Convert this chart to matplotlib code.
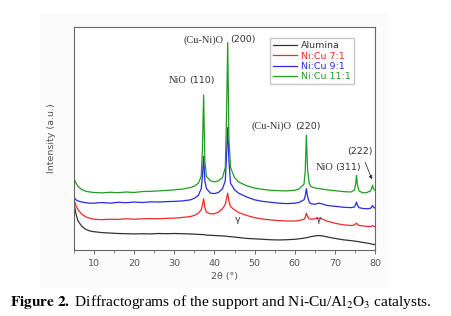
import matplotlib.pyplot as plt
from matplotlib.patches import Rectangle

plt.rcParams['mathtext.fontset'] = 'stix'

# 2-theta positions shared by all patterns
two_theta = [5, 5.5, 6, 7, 8, 9, 10, 12, 14, 16, 18, 20, 22, 24, 26, 28, 30, 32, 34, 35, 36,
             36.7, 37.0, 37.3, 37.6, 38, 39, 40, 41, 42, 42.7, 43.0, 43.3, 43.6, 44, 45, 46,
             48, 50, 52, 54, 56, 58, 60, 61, 62.3, 62.6, 62.9, 63.2, 63.6, 64, 65, 66, 67, 68,
             70, 72, 74, 74.9, 75.2, 75.4, 75.6, 76, 77, 78, 78.9, 79.2, 79.4, 79.6, 80]

alumina = [21.0, 16.0, 13.0, 10.5, 9.2, 8.5, 8.2, 7.8, 7.6, 7.4, 7.3, 7.2, 7.3, 7.2, 7.4, 7.3,
           7.4, 7.3, 7.2, 7.1, 7.0, 6.9, 7.0, 6.9, 6.8, 6.7, 6.6, 6.5, 6.4, 6.3, 6.2, 6.2, 6.1,
           6.0, 6.0, 5.8, 5.6, 5.2, 5.0, 4.8, 4.6, 4.5, 4.6, 4.8, 5.0, 5.3, 5.4, 5.5, 5.6, 5.8,
           6.0, 6.3, 6.5, 6.3, 5.9, 5.2, 4.6, 4.2, 4.0, 3.9, 3.9, 3.8, 3.7, 3.4, 3.1, 2.8, 2.7,
           2.6, 2.5, 2.4]

nicu_7 = [22.5, 20.0, 18.0, 16.0, 14.8, 14.2, 13.8, 13.6, 13.8, 13.7, 14.0, 13.8, 14.0, 14.1,
          14.0, 14.2, 14.3, 14.6, 15.0, 15.5, 16.5, 18.0, 20.0, 23.0, 19.0, 17.0, 16.2, 16.3,
          17.0, 18.5, 20.5, 23.0, 25.5, 22.0, 19.5, 18.0, 16.8, 15.5, 14.5, 13.9, 13.5, 13.2,
          13.0, 13.0, 13.2, 13.8, 14.5, 16.5, 15.0, 14.0, 13.8, 14.0, 14.3, 13.8, 13.0, 12.0,
          11.3, 11.0, 11.2, 11.8, 12.0, 11.6, 11.0, 10.8, 10.6, 10.5, 10.8, 11.0, 10.7, 10.4]

nicu_9 = [23.5, 22.5, 22.0, 21.5, 21.2, 21.0, 21.0, 21.3, 21.0, 21.4, 21.2, 21.5, 21.3, 21.6,
          21.5, 21.7, 21.8, 22.0, 22.5, 23.2, 24.5, 27.5, 33.0, 42.0, 31.0, 27.5, 25.5, 25.3,
          25.8, 27.5, 31.0, 42.0, 55.0, 40.0, 30.0, 27.0, 25.5, 23.8, 22.5, 21.8, 21.4, 21.0,
          20.8, 21.0, 21.3, 22.5, 24.0, 27.5, 24.0, 21.5, 20.8, 20.5, 21.0, 20.6, 20.0, 19.6,
          19.2, 19.0, 19.3, 20.5, 21.5, 20.2, 19.0, 18.6, 18.5, 18.7, 19.5, 20.0, 19.2, 18.8]

nicu_11 = [32.0, 30.0, 28.5, 27.0, 26.3, 26.0, 25.8, 25.6, 25.9, 25.7, 26.0, 25.8, 26.2, 26.3,
           26.5, 26.7, 27.0, 27.3, 28.0, 28.6, 30.0, 33.0, 45.0, 69.5, 40.0, 33.0, 31.0, 30.6,
           31.0, 32.5, 37.0, 60.0, 93.0, 50.0, 37.0, 32.5, 30.5, 28.8, 27.8, 27.2, 26.8, 26.6,
           26.5, 26.8, 27.3, 29.5, 35.0, 51.5, 36.0, 30.0, 28.5, 27.8, 27.5, 27.3, 27.0, 26.6,
           26.2, 26.0, 27.0, 30.0, 33.5, 29.5, 26.5, 25.6, 25.8, 26.5, 28.0, 29.0, 27.5, 26.8]

labels = ['Alumina', 'Ni:Cu 7:1', 'Ni:Cu 9:1', 'Ni:Cu 11:1']
colors = ['#333333', '#ee2a2a', '#2a2ae0', '#229a22']

fig = plt.figure(figsize=(4.52, 3.16), dpi=100)
# faint grey backdrop behind the chart, as in the scanned figure
fig.patches.append(Rectangle((40 / 452, 1 - 287 / 316), 347 / 452, 273 / 316,
                             transform=fig.transFigure, color='#fbfbfb', zorder=-10))

ax = fig.add_axes([74 / 452, 66 / 316, 301 / 452, 223 / 316])
ax.set_zorder(1)
ax.set_facecolor('white')

for y, lab, c in zip([alumina, nicu_7, nicu_9, nicu_11], labels, colors):
    ax.plot(two_theta, y, color=c, lw=0.9, label=lab)

ax.set_xlim(5, 80)
ax.set_ylim(0, 100)
ax.set_yticks([])
ax.set_xticks(range(10, 81, 10))
ax.set_xticks(range(5, 80, 10), minor=True)
ax.tick_params(axis='x', labelsize=6.8, labelcolor='#555555', length=3, width=0.6,
               color='#555555')
ax.tick_params(axis='x', which='minor', length=2, width=0.5, color='#555555')
for s in ax.spines.values():
    s.set_color('#666666')
    s.set_linewidth(0.8)

ax.set_xlabel('2θ (°)', fontsize=6.8, color='#555555', labelpad=3)
ax.set_ylabel('Intensity (a.u.)', fontsize=6.8, color='#555555', labelpad=13)

leg = ax.legend(loc='upper right', bbox_to_anchor=(0.945, 0.97), fontsize=6.8,
                frameon=True, fancybox=False, edgecolor='#bbbbbb', borderpad=0.3,
                labelspacing=0.15, handlelength=2.6, handletextpad=0.4)
for txt, c in zip(leg.get_texts(), colors):
    txt.set_color(c)

serif = 'Liberation Serif'
tk = dict(color='#333333', va='center')
ax.text(28.5, 75.8, 'NiO', family=serif, fontsize=7.5, ha='left', **tk)
ax.text(33.8, 75.8, '(110)', fontsize=6.8, ha='left', **tk)
ax.text(32.3, 94.2, '(Cu-Ni)O', family=serif, fontsize=7.5, ha='left', **tk)
ax.text(44.0, 94.2, '(200)', fontsize=6.8, ha='left', **tk)
ax.text(49.3, 55.6, '(Cu-Ni)O', family=serif, fontsize=7.5, ha='left', **tk)
ax.text(60.2, 55.6, '(220)', fontsize=6.8, ha='left', **tk)
ax.text(65.3, 36.8, 'NiO', family=serif, fontsize=7.5, ha='left', **tk)
ax.text(70.0, 36.8, '(311)', fontsize=6.8, ha='left', **tk)
ax.text(73.0, 44.0, '(222)', fontsize=6.8, ha='left', **tk)
ax.annotate('', xy=(79.5, 30.5), xytext=(77.3, 40.5),
            arrowprops=dict(arrowstyle='-|>', color='#333333', lw=0.6,
                            mutation_scale=5))
ax.text(45.8, 13.5, 'γ', fontsize=6.8, ha='center', **tk)
ax.text(66.0, 13.5, 'γ', fontsize=6.8, ha='center', **tk)

fig.text(10 / 452, 1 - 302 / 316,
         r'$\mathbf{Figure\ 2.}$ Diffractograms of the support and Ni-Cu/Al$_2$O$_3$ catalysts.',
         family=serif, fontsize=11.1, va='center', ha='left')

fig.savefig('out.png', dpi=100)
